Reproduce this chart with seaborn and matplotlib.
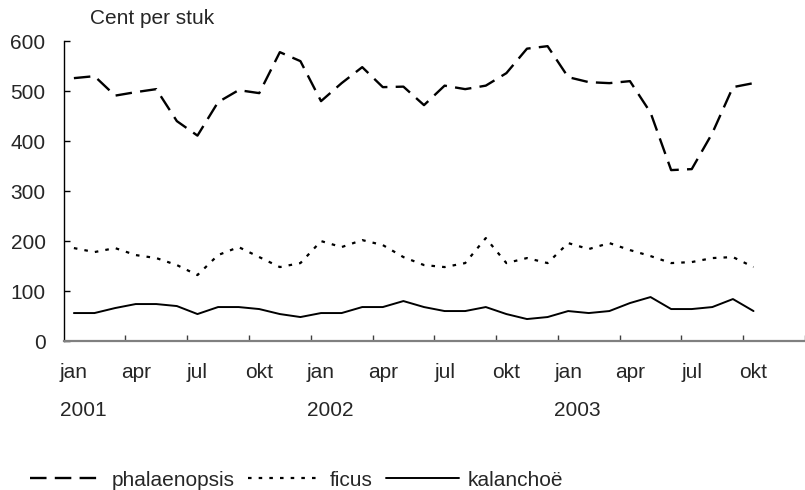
import numpy as np
import pandas as pd
import seaborn as sns
import matplotlib.pyplot as plt
import matplotlib.transforms as mtransforms

# Maandprijzen (cent per stuk), jan 2001 t/m okt 2003
months = ["jan", "feb", "mrt", "apr", "mei", "jun", "jul", "aug", "sep", "okt", "nov", "dec"]
years = ["2001", "2002", "2003"]

phalaenopsis = [526, 530, 491, 498, 504, 440, 411, 478, 502, 496, 578, 560,
                480, 516, 548, 508, 509, 472, 511, 504, 511, 536, 585, 590,
                528, 518, 516, 520, 457, 342, 344, 416, 508, 516]
ficus = [186, 178, 186, 172, 166, 152, 132, 172, 188, 168, 148, 156,
         200, 188, 202, 192, 168, 152, 148, 156, 206, 156, 166, 156,
         196, 184, 196, 182, 170, 156, 158, 166, 168, 148]
kalanchoe = [56, 56, 66, 74, 74, 70, 54, 68, 68, 64, 54, 48,
             56, 56, 68, 68, 80, 68, 60, 60, 68, 54, 44, 48,
             60, 56, 60, 76, 88, 64, 64, 68, 84, 60]

series = {"phalaenopsis": phalaenopsis, "ficus": ficus, "kalanchoë": kalanchoe}
styles = {
    "phalaenopsis": dict(lw=1.7, dashes=(7, 3.5)),
    "ficus": dict(lw=1.6, dashes=(1.6, 3.2)),
    "kalanchoë": dict(lw=1.4, dashes=()),
}

frames = []
for name, vals in series.items():
    frames.append(pd.DataFrame({"idx": np.arange(len(vals)), "value": vals, "plant": name}))
df = pd.concat(frames, ignore_index=True)

sns.set_style("white")
plt.rcParams["font.family"] = ["Liberation Sans", "DejaVu Sans"]
fs = 15

fig = plt.figure(figsize=(8.05, 4.9), dpi=100)
ax = fig.add_axes([0.079, 0.304, 0.921, 0.612])

for name in series:
    st = styles[name]
    sns.lineplot(data=df[df["plant"] == name], x="idx", y="value", ax=ax,
                 color="black", lw=st["lw"], label=name, legend=False)
    if st["dashes"]:
        ax.lines[-1].set_dashes(st["dashes"])

ax.set_xlim(-0.5, 35.23)
ax.set_ylim(0, 600)
ax.set_xlabel("")
ax.set_ylabel("")

# y-as
ax.set_yticks(range(0, 601, 100))
ax.tick_params(axis="y", direction="in", length=4, width=1, color="black",
               labelsize=fs, pad=13, left=True)

# x-as: streepjes tussen kwartalen, labels onder de maanden
ax.set_xticks(np.arange(2.5, 36, 3))
ax.set_xticklabels([])
ax.tick_params(axis="x", which="major", direction="in", length=4, width=1,
               color="#404040", bottom=True)
lab_pos = np.arange(0, 34, 3)
ax.set_xticks(lab_pos, minor=True)
ax.set_xticklabels([months[i % 12] for i in lab_pos], minor=True)
ax.tick_params(axis="x", which="minor", length=0, labelsize=fs, pad=15.5)

trans = mtransforms.blended_transform_factory(ax.transData, ax.transAxes)
for k, yr in enumerate(years):
    ax.text(12 * k - 0.68, -0.2, yr, transform=trans, ha="left", va="top", fontsize=fs)

sns.despine(ax=ax)
ax.spines["left"].set_color("black")
ax.spines["left"].set_linewidth(1)
ax.spines["bottom"].set_color("#808080")
ax.spines["bottom"].set_linewidth(1.6)

fig.text(90 / 805, 1 - 19 / 490, "Cent per stuk", ha="left", va="center", fontsize=fs)

handles = ax.get_lines()[:3]
fig.legend(handles, list(series.keys()), loc="center left", bbox_to_anchor=(0.037, 0.02),
           ncol=3, frameon=False, fontsize=fs, handlelength=3.5, handletextpad=0.43,
           columnspacing=0.63, borderaxespad=0, borderpad=0)

fig.savefig("out.png", dpi=100)
